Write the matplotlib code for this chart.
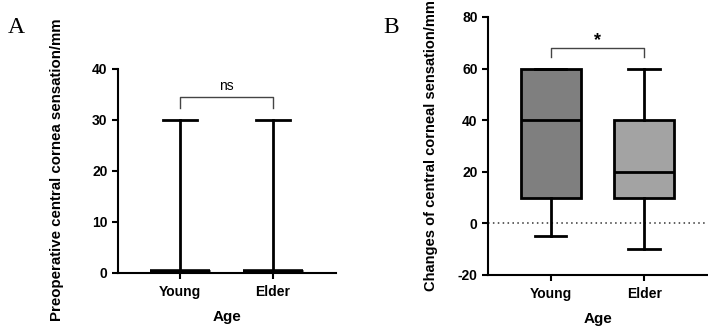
import numpy as np
import matplotlib
matplotlib.use('Agg')
import matplotlib.pyplot as plt

plt.rcParams['font.family'] = ['Liberation Sans', 'DejaVu Sans']
plt.rcParams['font.weight'] = 'bold'
plt.rcParams['axes.labelweight'] = 'bold'
plt.rcParams['axes.unicode_minus'] = False

groups = ['Young', 'Elder']

# panel A: preoperative sensation (box collapsed at ~0)
a_low = [0.3, 0.3]
a_q1 = [0.3, 0.3]
a_med = [0.3, 0.3]
a_q3 = [0.3, 0.3]
a_high = [30, 30]

# panel B: changes of sensation
b_low = [-5, -10]
b_q1 = [10, 10]
b_med = [40, 20]
b_q3 = [60, 40]
b_high = [60, 60]
b_colors = ['#7f7f7f', '#a3a3a3']

lw = 2.0


def stats(low, q1, med, q3, high):
    out = []
    for i in range(len(low)):
        out.append(dict(whislo=low[i], q1=q1[i], med=med[i], q3=q3[i],
                        whishi=high[i], fliers=[]))
    return out


def style(ax):
    for s in ['top', 'right']:
        ax.spines[s].set_visible(False)
    ax.spines['left'].set_linewidth(1.5)
    ax.spines['bottom'].set_linewidth(1.5)
    ax.tick_params(width=1.5, length=4.5, labelsize=10, pad=3)
    ax.tick_params(axis='x', pad=4)
    ax.set_xlim(-0.667, 1.68)


fig = plt.figure(figsize=(7.08, 3.28), dpi=100)

# --- A ---
axA = fig.add_axes([0.1667, 0.1677, 0.3079, 0.622])
bp = axA.bxp(stats(a_low, a_q1, a_med, a_q3, a_high), positions=[0, 1],
             widths=0.64, capwidths=0.36, patch_artist=True,
             boxprops=dict(facecolor='white', edgecolor='black', linewidth=lw),
             medianprops=dict(color='black', linewidth=lw + 0.6),
             whiskerprops=dict(color='black', linewidth=lw),
             capprops=dict(color='black', linewidth=lw))
style(axA)
axA.set_ylim(0, 40)
axA.set_yticks([0, 10, 20, 30, 40])
axA.set_xticks([0, 1])
axA.set_xticklabels(groups)
axA.set_xlabel('Age', fontsize=11, labelpad=8)
axA.set_ylabel('Preoperative central cornea sensation/mm', fontsize=10.8)
axA.yaxis.set_label_coords(-0.25, 0.505)
axA.plot([0, 0, 1, 1], [32.3, 34.5, 34.5, 32.3], color='#444444', lw=1.0, clip_on=False)
axA.text(0.5, 36.6, 'ns', ha='center', va='center', fontsize=10, fontweight='normal')
fig.text(0.011, 0.90, 'A', fontsize=17, family='Liberation Serif', fontweight='normal')

# --- B ---
axB = fig.add_axes([0.6893, 0.1616, 0.3107, 0.7866])
bp = axB.bxp(stats(b_low, b_q1, b_med, b_q3, b_high), positions=[0, 1],
             widths=0.64, capwidths=0.34, patch_artist=True,
             boxprops=dict(edgecolor='black', linewidth=lw),
             medianprops=dict(color='black', linewidth=lw),
             whiskerprops=dict(color='black', linewidth=lw),
             capprops=dict(color='black', linewidth=lw))
for patch, c in zip(bp['boxes'], b_colors):
    patch.set_facecolor(c)
style(axB)
axB.set_ylim(-20, 80)
axB.set_yticks([-20, 0, 20, 40, 60, 80])
axB.axhline(0, color='#333333', lw=1.1, ls=(0, (1.0, 2.2)), zorder=0)
axB.set_xticks([0, 1])
axB.set_xticklabels(groups)
axB.set_xlabel('Age', fontsize=11, labelpad=8)
axB.set_ylabel('Changes of central corneal sensation/mm', fontsize=10.5)
axB.yaxis.set_label_coords(-0.227, 0.50)
axB.plot([0, 0, 1, 1], [64.5, 68, 68, 64.5], color='#444444', lw=1.0, clip_on=False)
axB.text(0.5, 71.0, '*', ha='center', va='center', fontsize=13, fontweight='bold')
fig.text(0.541, 0.90, 'B', fontsize=17, family='Liberation Serif', fontweight='normal')

fig.savefig('out.png', dpi=100)
